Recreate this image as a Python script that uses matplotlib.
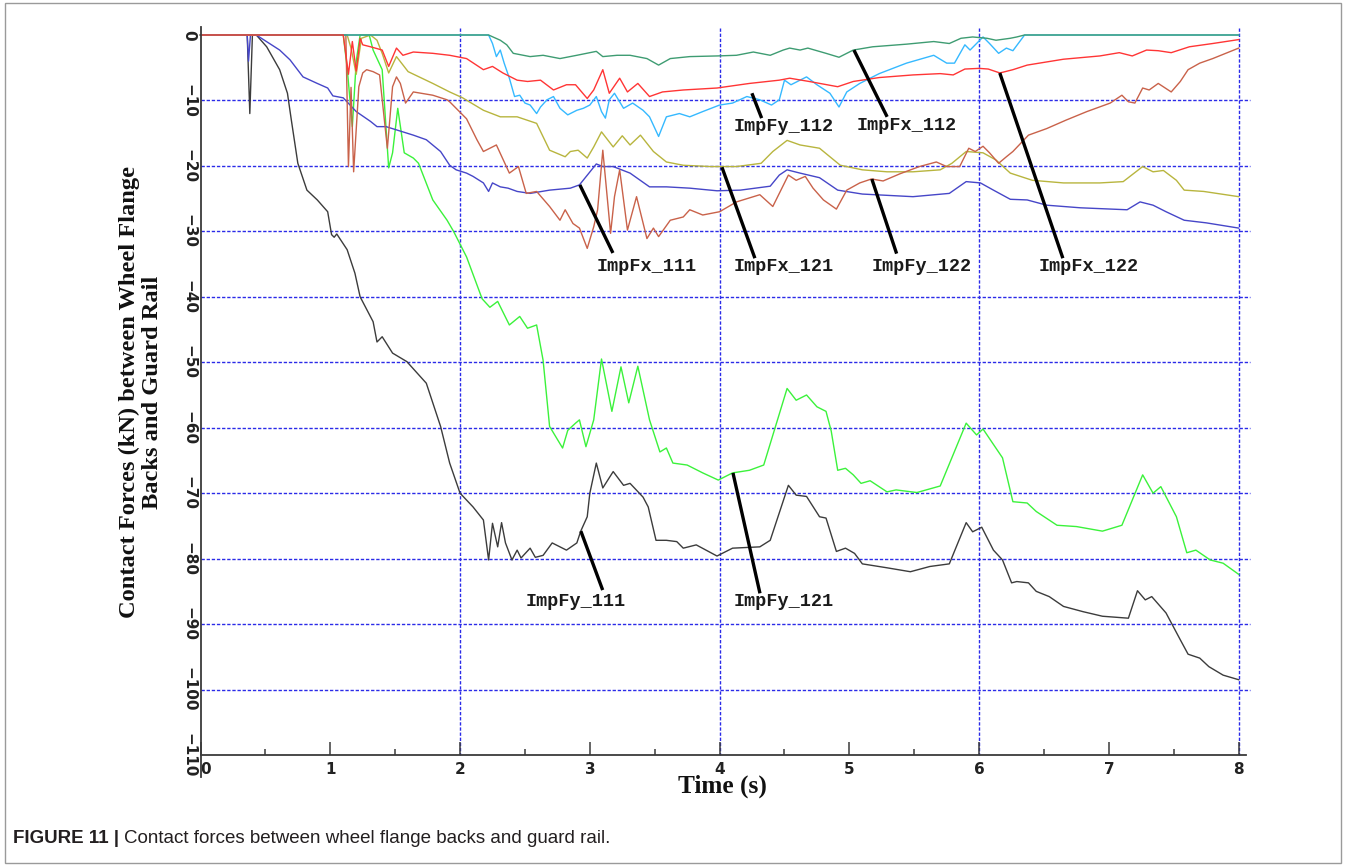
import matplotlib
matplotlib.use("Agg")
import matplotlib.pyplot as plt
from matplotlib.patches import Rectangle
from matplotlib.ticker import MultipleLocator

# ---------------------------------------------------------------- data
# Time (s) and contact force (kN) for each force channel
t_fy111 = [0, 0.36, 0.38, 0.40, 0.43, 0.51, 0.61, 0.67, 0.70, 0.75, 0.82, 0.90, 0.98, 1.01, 1.03,
           1.05, 1.13, 1.19, 1.23, 1.33, 1.36, 1.40, 1.48, 1.59, 1.74, 1.85, 1.92, 2.00, 2.10, 2.18,
           2.22, 2.25, 2.29, 2.32, 2.35, 2.40, 2.44, 2.47, 2.54, 2.58, 2.64, 2.71, 2.82, 2.90, 2.93,
           2.98, 3.00, 3.05, 3.10, 3.18, 3.26, 3.31, 3.41, 3.45, 3.51, 3.59, 3.67, 3.72, 3.82, 3.98,
           4.10, 4.31, 4.39, 4.53, 4.59, 4.67, 4.77, 4.82, 4.90, 4.97, 5.04, 5.10, 5.29, 5.47, 5.62,
           5.77, 5.90, 5.95, 6.02, 6.11, 6.18, 6.25, 6.29, 6.38, 6.44, 6.54, 6.65, 6.80, 6.95, 7.15,
           7.22, 7.28, 7.33, 7.44, 7.55, 7.61, 7.70, 7.77, 7.88, 8.00]
fy111 = [0, 0, -12, 0, 0, -1.8, -5.3, -8.9, -13, -19.6, -23.7, -25.2, -27, -30.5, -30.9,
         -30.4, -32.8, -36.4, -40, -43.8, -46.9, -46.1, -48.6, -49.9, -53.2, -59.8, -65.4, -70, -72.1, -74.1,
         -80.2, -74.6, -78.2, -74.5, -77.6, -80.2, -78.7, -79.9, -78.4, -79.8, -79.5, -77.6, -78.7, -77.6, -75.8,
         -73.6, -70, -65.4, -69.2, -66.7, -68.8, -68.5, -70.6, -72.1, -77.2, -77.2, -77.4, -78.4, -77.9, -79.6,
         -78.4, -78.2, -77.2, -68.8, -70.3, -70.5, -73.6, -73.8, -78.9, -78.4, -79.2, -80.8, -81.4, -82.0, -81.2,
         -80.8, -74.5, -75.9, -75.2, -78.7, -80.2, -83.7, -83.5, -83.7, -85, -85.8, -87.3, -88.1, -88.8, -89.1,
         -84.9, -86.3, -85.8, -88.3, -92.4, -94.6, -95.2, -96.5, -97.8, -98.5]

t_fy121 = [0, 1.10, 1.13, 1.17, 1.20, 1.23, 1.30, 1.33, 1.40, 1.45, 1.48, 1.52, 1.57, 1.64, 1.68,
           1.79, 1.90, 1.95, 2.05, 2.17, 2.23, 2.29, 2.38, 2.46, 2.52, 2.59, 2.64, 2.69, 2.79, 2.83,
           2.89, 2.92, 2.97, 3.03, 3.09, 3.17, 3.24, 3.30, 3.37, 3.46, 3.54, 3.59, 3.64, 3.75, 3.87,
           3.99, 4.10, 4.23, 4.34, 4.52, 4.59, 4.67, 4.75, 4.82, 4.86, 4.91, 4.97, 5.03, 5.09, 5.16,
           5.29, 5.36, 5.52, 5.70, 5.90, 5.98, 6.03, 6.18, 6.26, 6.37, 6.44, 6.60, 6.75, 6.95, 7.10,
           7.26, 7.34, 7.40, 7.52, 7.60, 7.67, 7.78, 7.88, 8.00]
fy121 = [0, 0, -5, -14, -4, 0, 0, -2.3, -5.3, -20.3, -18, -11.2, -18, -18.8, -19.6,
         -25.2, -28.3, -30, -33.9, -40.3, -41.6, -40.7, -44.3, -43, -44.8, -44.3, -49.7, -59.8, -63.1, -60.4,
         -59.3, -58.8, -62.9, -58.8, -49.5, -57.5, -50.7, -56.2, -50.6, -58.8, -63.7, -63.1, -65.4, -65.7, -66.9,
         -68, -66.9, -66.5, -65.7, -54, -55.8, -55, -56.8, -57.5, -60.5, -66.5, -66.2, -67.2, -68.5, -68.1,
         -69.8, -69.5, -69.9, -68.9, -59.3, -61.1, -60.2, -64.6, -71.3, -71.5, -72.8, -74.9, -75.1, -75.8, -74.9,
         -67.2, -70, -69, -73.6, -79.1, -78.7, -80.2, -80.7, -82.4]

t_fx111 = [0, 0.36, 0.37, 0.385, 0.43, 0.61, 0.69, 0.79, 0.90, 0.98, 1.02, 1.10, 1.20, 1.31, 1.36,
           1.43, 1.64, 1.74, 1.85, 1.92, 1.97, 2.05, 2.10, 2.18, 2.22, 2.25, 2.31, 2.37, 2.44, 2.54,
           2.69, 2.85, 2.92, 3.05, 3.10, 3.18, 3.31, 3.46, 3.59, 3.77, 3.98, 4.16, 4.39, 4.46, 4.52,
           4.62, 4.77, 4.91, 5.10, 5.49, 5.77, 5.90, 6.01, 6.11, 6.24, 6.37, 6.52, 6.78, 7.14, 7.24,
           7.34, 7.44, 7.58, 7.75, 8.00]
fx111 = [0, 0, -4, 0, 0, -2.3, -3.8, -6.4, -7.4, -8.1, -9.3, -9.6, -11.7, -13.2, -14,
         -14, -15.3, -16, -17.8, -19.9, -20.6, -21.1, -21.6, -22.6, -23.9, -22.6, -23.2, -23.4, -23.9, -24.2,
         -23.7, -23.4, -22.9, -19.7, -20.1, -20.1, -21.1, -23.2, -23.2, -23.4, -23.8, -23.7, -23.1, -21.4, -20.6,
         -21.1, -21.8, -23.7, -24.3, -24.7, -24.2, -22.4, -22.6, -23.7, -25.1, -25.2, -26, -26.4, -26.7, -25.5,
         -26, -27, -28.3, -28.7, -29.5]

t_fx121 = [0, 1.13, 1.16, 1.20, 1.24, 1.31, 1.36, 1.40, 1.45, 1.51, 1.60, 1.79, 1.92, 2.02, 2.18,
           2.31, 2.44, 2.59, 2.69, 2.81, 2.85, 2.91, 2.98, 3.03, 3.09, 3.18, 3.25, 3.31, 3.39, 3.49,
           3.59, 3.72, 3.93, 4.13, 4.32, 4.41, 4.52, 4.62, 4.77, 4.93, 5.10, 5.29, 5.49, 5.70, 5.79,
           5.90, 6.03, 6.13, 6.24, 6.41, 6.65, 6.93, 7.11, 7.26, 7.34, 7.42, 7.52, 7.58, 7.73, 8.00]
fx121 = [0, 0, -2, -6, -0.5, 0, -0.8, -2.8, -5.8, -3.3, -5.6, -7.4, -8.7, -9.6, -11.5,
         -12.5, -12.5, -13.5, -17.6, -18.6, -17.8, -17.6, -18.8, -17.1, -14.8, -17.1, -15.4, -16.8, -15.3, -17.8,
         -19.4, -19.9, -20.1, -20.1, -19.6, -17.8, -16.1, -16.8, -17.3, -19.9, -20.6, -20.9, -20.9, -20.6, -19.6,
         -17.8, -18, -19.1, -21.1, -22.2, -22.6, -22.6, -22.4, -20.1, -20.9, -20.7, -22.2, -23.7, -23.9, -24.7]

t_fy122 = [0, 1.12, 1.14, 1.16, 1.18, 1.22, 1.25, 1.28, 1.33, 1.38, 1.44, 1.48, 1.51, 1.54, 1.58,
           1.64, 1.79, 1.90, 1.92, 2.05, 2.13, 2.18, 2.28, 2.38, 2.45, 2.51, 2.59, 2.69, 2.77, 2.81,
           2.87, 2.92, 2.98, 3.03, 3.06, 3.10, 3.16, 3.19, 3.23, 3.29, 3.36, 3.44, 3.49, 3.53, 3.62,
           3.72, 3.77, 3.87, 4.00, 4.13, 4.31, 4.41, 4.53, 4.59, 4.66, 4.72, 4.80, 4.90, 4.98, 5.08,
           5.17, 5.26, 5.39, 5.54, 5.67, 5.75, 5.85, 5.92, 5.97, 6.03, 6.08, 6.15, 6.21, 6.26, 6.38,
           6.52, 6.67, 6.83, 7.01, 7.10, 7.15, 7.20, 7.26, 7.31, 7.38, 7.48, 7.55, 7.61, 7.70, 7.80,
           8.00]
fy122 = [0, 0, -20.1, -8, -20.9, -7.9, -5.8, -5.3, -5.6, -6.1, -17.3, -7.9, -6.4, -7.4, -10.4,
         -8.7, -9.2, -9.9, -10.2, -12.8, -16, -17.8, -16.8, -21.1, -20.1, -24.2, -23.9, -26.2, -28.3, -26.7,
         -28.8, -29.5, -32.6, -29.3, -26.7, -17.6, -30.3, -24.7, -20.6, -29.8, -24.7, -31.1, -29.5, -30.8, -28.3,
         -27.8, -26.7, -27.5, -27, -25.5, -24.4, -26.2, -21.4, -22.2, -21.6, -23.4, -25.2, -26.6, -23.7, -22.6,
         -22, -22.3, -21.2, -20.1, -19.4, -20.1, -20.1, -17.3, -17.8, -17, -18, -19.6, -18.6, -17.8, -15.3,
         -14.3, -13, -11.7, -10.4, -9.2, -10.2, -10.4, -8.1, -8.4, -7.4, -8.7, -7.1, -5.3, -4.3, -3.6,
         -2.0]

t_fx122 = [0, 1.10, 1.14, 1.17, 1.20, 1.23, 1.25, 1.31, 1.40, 1.45, 1.51, 1.56, 1.64, 1.79, 1.92,
           2.05, 2.18, 2.25, 2.33, 2.44, 2.52, 2.62, 2.72, 2.82, 2.89, 2.98, 3.03, 3.10, 3.15, 3.23,
           3.29, 3.37, 3.46, 3.56, 3.72, 3.98, 4.23, 4.46, 4.54, 4.69, 4.91, 5.03, 5.23, 5.49, 5.70,
           5.80, 5.89, 6.00, 6.07, 6.16, 6.26, 6.37, 6.65, 6.93, 7.08, 7.18, 7.29, 7.38, 7.48, 7.62,
           7.80, 8.00]
fx122 = [0, 0, -6, -1, -5.5, -0.5, -1.5, -1.8, -2.3, -4.8, -2.0, -3.1, -2.6, -2.8, -3.1,
         -3.6, -5.3, -4.8, -5.8, -6.9, -7.1, -6.9, -8.4, -7.6, -7.6, -9.7, -8.4, -5.3, -8.9, -6.6,
         -8.7, -7.4, -9.4, -8.7, -8.4, -8.1, -7.4, -6.9, -6.6, -7.1, -7.9, -7.1, -6.5, -6.1, -5.9,
         -6.1, -5.2, -5.1, -5.2, -5.8, -5.3, -4.6, -3.7, -3.2, -2.7, -3.2, -2.3, -2.4, -2.7, -1.8,
         -1.3, -0.7]

t_fy112 = [0, 2.22, 2.25, 2.28, 2.31, 2.34, 2.38, 2.42, 2.46, 2.50, 2.54, 2.59, 2.62, 2.67, 2.72,
           2.77, 2.83, 2.90, 2.95, 3.00, 3.05, 3.09, 3.12, 3.15, 3.19, 3.26, 3.33, 3.41, 3.46, 3.53,
           3.59, 3.69, 3.77, 3.87, 4.00, 4.10, 4.21, 4.31, 4.40, 4.46, 4.50, 4.55, 4.62, 4.67, 4.75,
           4.85, 4.92, 4.98, 5.08, 5.23, 5.44, 5.65, 5.75, 5.81, 5.89, 5.93, 5.98, 6.03, 6.08, 6.15,
           6.21, 6.26, 6.35, 8.00]
fy112 = [0, 0, -1.3, -3.3, -2.3, -4.3, -6.6, -9.4, -9.2, -10.4, -10.7, -12, -11, -9.9, -9.4,
         -11.2, -12.2, -11.5, -11.2, -10.7, -9.4, -11.7, -12.7, -9.9, -8.9, -11.2, -10.4, -11.5, -12.5, -15.5,
         -12.5, -12, -12.5, -11.7, -10.7, -10.4, -9.4, -9.9, -10.7, -9.9, -6.9, -7.6, -6.9, -6.4, -7.6,
         -8.9, -11, -8.7, -7.4, -5.9, -4.3, -3.1, -4.3, -4.3, -1.5, -2.3, -1.3, -0.3, -1.3, -2.8,
         -2.0, -2.4, 0, 0]

t_fx112 = [0, 2.22, 2.31, 2.36, 2.41, 2.54, 2.64, 2.77, 2.90, 3.05, 3.10, 3.21, 3.31, 3.44, 3.53,
           3.62, 3.77, 3.98, 4.13, 4.26, 4.39, 4.49, 4.54, 4.62, 4.68, 4.82, 4.92, 5.03, 5.18, 5.44,
           5.65, 5.77, 5.86, 5.95, 6.06, 6.13, 6.24, 6.29, 6.35, 8.00]
fx112 = [0, 0, -0.8, -1.5, -2.8, -3.3, -3.1, -3.6, -3.1, -2.5, -3.3, -3.1, -3.1, -3.6, -4.6,
         -3.6, -3.3, -3.2, -3.1, -2.6, -3.1, -2.3, -2.0, -2.3, -2.0, -2.8, -3.4, -2.3, -1.8, -1.4,
         -1.0, -1.3, -0.5, -0.3, -0.5, -0.8, -0.5, -0.3, 0, 0]

x_ticks = [0, 1, 2, 3, 4, 5, 6, 7, 8]
y_ticks = [0, -10, -20, -30, -40, -50, -60, -70, -80, -90, -100, -110]

series_names = ["ImpFy_111", "ImpFy_121", "ImpFx_111", "ImpFx_121",
                "ImpFy_122", "ImpFy_112", "ImpFx_112", "ImpFx_122"]

# ---------------------------------------------------------------- styling
W, H = 1346, 866
fig = plt.figure(figsize=(W / 100, H / 100), dpi=100)
fig.patch.set_facecolor("white")

x0_px, x1_px, y0_px, y1_px = 200.5, 1238.7, 35.0, 755.0
ax = fig.add_axes([x0_px / W, 1 - y1_px / H, (x1_px - x0_px) / W, (y1_px - y0_px) / H])
ax.set_xlim(0, 8)
ax.set_ylim(-110, 0)
for sp in ax.spines.values():
    sp.set_visible(False)

axis_col = "#3a3a3a"
grid_col = "#2b2be8"
dash = (0, (2.4, 1.3))

# dashed reference grid
for yv in y_ticks[1:-1]:
    ax.plot([0, 8.09], [yv, yv], color=grid_col, lw=1.0, ls=dash, clip_on=False, zorder=1)
for xv in [2, 4, 6, 8]:
    ax.plot([xv, xv], [1.0, -110], color=grid_col, lw=1.0, ls=dash, clip_on=False, zorder=1)

# axis lines
ax.plot([0, 0], [1.2, -113.4], color=axis_col, lw=1.3, clip_on=False, zorder=6)
ax.plot([0, 8.06], [-110, -110], color=axis_col, lw=1.3, clip_on=False, zorder=6)

curves = [
    (t_fy111, fy111, "#3c3c3c"),
    (t_fy121, fy121, "#3bf23b"),
    (t_fx111, fx111, "#4646c8"),
    (t_fx121, fx121, "#b8b53e"),
    (t_fy122, fy122, "#c9624a"),
    (t_fy112, fy112, "#35b9ff"),
    (t_fx112, fx112, "#3e9c72"),
    (t_fx122, fx122, "#ff3535"),
]
for t, v, c in curves:
    ax.plot(t, v, color=c, lw=1.0, zorder=3, solid_joinstyle="round", clip_on=False)

# leader lines and channel labels
label_xy = {
    "ImpFx_111": (3.44, -35.4), "ImpFx_121": (4.49, -35.4), "ImpFy_122": (5.56, -35.4),
    "ImpFx_122": (6.845, -35.4), "ImpFy_112": (4.49, -14.0), "ImpFx_112": (5.44, -13.9),
    "ImpFy_111": (2.89, -86.6), "ImpFy_121": (4.49, -86.6),
}
leader = {
    "ImpFx_111": ((2.923, -22.9), (3.178, -33.3)),
    "ImpFx_121": ((4.018, -20.2), (4.272, -34.1)),
    "ImpFy_122": ((5.173, -22.0), (5.364, -33.4)),
    "ImpFx_122": ((6.159, -5.8), (6.645, -34.1)),
    "ImpFy_112": ((4.249, -8.9), (4.324, -12.7)),
    "ImpFx_112": ((5.035, -2.3), (5.291, -12.5)),
    "ImpFy_111": ((2.931, -75.8), (3.099, -84.8)),
    "ImpFy_121": ((4.103, -66.9), (4.311, -85.3)),
}
for name in series_names:
    (xa, ya), (xb, yb) = leader[name]
    ax.plot([xa, xb], [ya, yb], color="black", lw=2.4, zorder=5, solid_capstyle="butt")
    lx, ly = label_xy[name]
    ax.text(lx, ly, name, ha="center", va="center", fontsize=13.3,
            family="Liberation Mono", fontweight="bold", color="#1a1a1a", zorder=6)

# ticks
ax.set_xticks(x_ticks)
ax.xaxis.set_minor_locator(MultipleLocator(0.5))
ax.tick_params(axis="x", which="major", direction="in", length=9.5, width=1.1,
               color=axis_col, pad=5, labelsize=11)
ax.tick_params(axis="x", which="minor", direction="in", length=4.5, width=1.1, color=axis_col)
ax.set_xticklabels([str(v) for v in x_ticks], fontweight="bold", color="#222222")
ax.get_xticklabels()[0].set_horizontalalignment("left")

ax.set_yticks(y_ticks)
ax.tick_params(axis="y", which="both", length=0, pad=3, labelsize=11)
ax.set_yticklabels([str(v).replace("-", "\u2212") for v in y_ticks], rotation=-90,
                   va="center", fontweight="bold", color="#222222")

# axis titles
fig.text(141 / W, 1 - 392 / H, "Contact Forces (kN) between Wheel Flange\nBacks and Guard Rail",
         rotation=90, ha="center", va="center", multialignment="center",
         family="Liberation Serif", fontweight="bold", fontsize=17.6, linespacing=1.08,
         color="#111111")
fig.text(722 / W, 1 - 786 / H, "Time (s)", ha="center", va="center",
         family="Liberation Serif", fontweight="bold", fontsize=18.2, color="#111111")

# caption
cap1 = fig.text(13 / W, 1 - 843 / H, "FIGURE 11 |", family="Liberation Sans",
                fontweight="bold", fontsize=13.5, color="#231f20", va="baseline")
fig.canvas.draw()
bb = cap1.get_window_extent(renderer=fig.canvas.get_renderer())
fig.text((bb.x1 + 5) / W, 1 - 843 / H, "Contact forces between wheel flange backs and guard rail.",
         family="Liberation Sans", fontsize=13.5, color="#231f20", va="baseline")

# outer frame
fig.add_artist(Rectangle((5 / W, 3 / H), (W - 10) / W, (H - 6) / H, transform=fig.transFigure,
                         fill=False, edgecolor="#9a9a9a", lw=1.0))

fig.savefig("out.png", dpi=100, facecolor="white")
